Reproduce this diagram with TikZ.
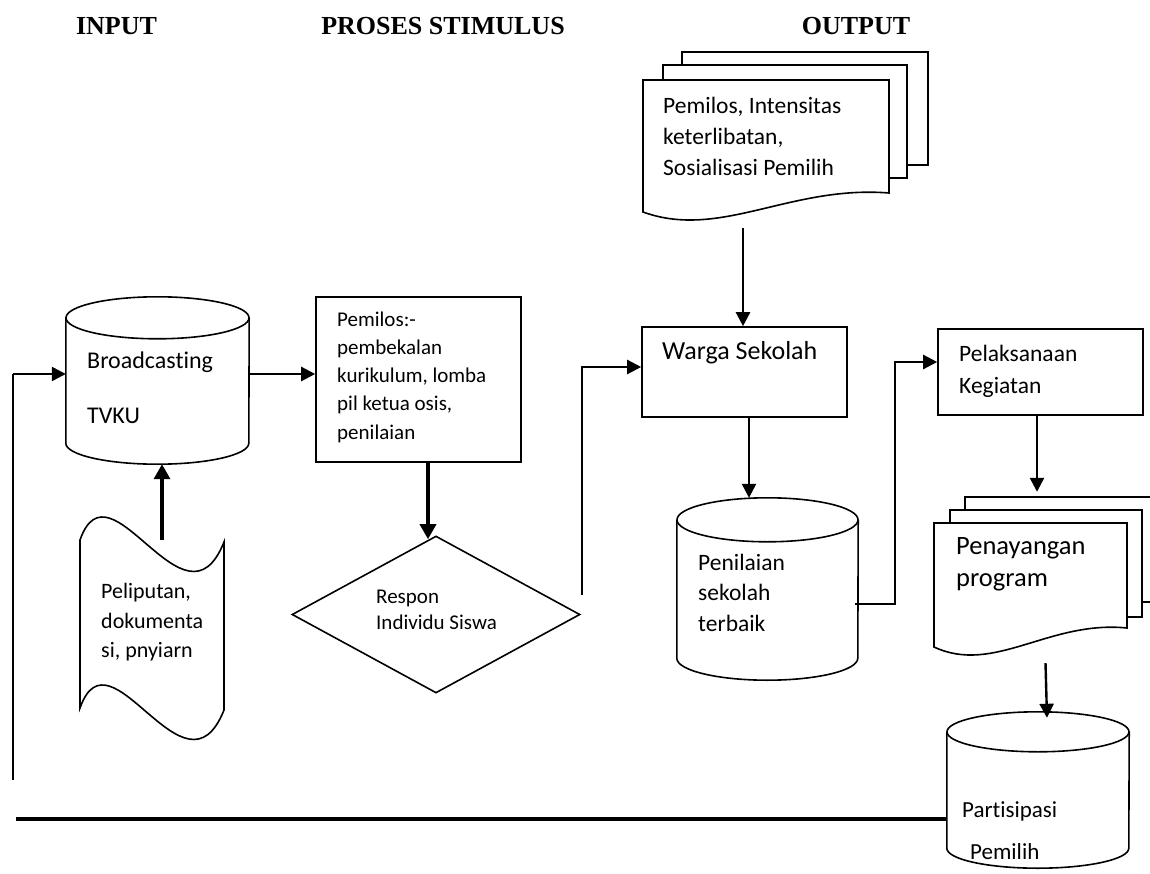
\documentclass[tikz,border=0pt]{standalone}
\usepackage{fontspec}
\setmainfont[Ligatures=NoCommon]{Carlito}
\newfontfamily\headfont{Liberation Serif}
\usetikzlibrary{arrows.meta,shapes.geometric}

% outline of an upright cylinder around a named node
\newcommand\cylinderoutline[3]{%
  \draw[outline] ([yshift=-#3]#1.north west) -- ([yshift=#3]#1.south west)
    arc[start angle=180, end angle=360, x radius=#2, y radius=#3]
    -- ([yshift=-#3]#1.north east);
  \draw[outline] ([yshift=-#3]#1.north) ellipse [x radius=#2, y radius=#3];
}

\begin{document}
\begin{tikzpicture}[x=1pt,y=-1pt,
  outline/.style={line width=1.6pt, line join=miter},
  procbox/.style={draw, line width=1.6pt, rectangle, inner sep=0pt},
  holder/.style={rectangle, inner sep=0pt},
  flow/.style={line width=2.4pt, -{Triangle[length=14pt,width=14pt]}},
  flowbold/.style={line width=3.4pt, -{Triangle[length=15pt,width=16pt]}},
  heading/.style={font=\headfont\bfseries\fontsize{26}{30}\selectfont, inner sep=0pt},
  label/.style={anchor=west, align=left, inner sep=0pt},
]
\useasboundingbox[fill=white] (0,0) rectangle (1150,874);

% column headings
\node[heading] (hin)  at (116.5,26) {INPUT};
\node[heading] (hpro) at (443,26)   {PROSES STIMULUS};
\node[heading] (hout) at (856,26)   {OUTPUT};

% ---------- input ----------
\node[holder, minimum width=183pt, minimum height=167pt] (bc) at (157.5,380.5) {};
\cylinderoutline{bc}{91.5pt}{21pt}
\node[label, font=\fontsize{24}{55}\selectfont] (bct) at (87,387.5) {Broadcasting\\TVKU};

% punched tape
\node[holder, minimum width=144pt, minimum height=228pt] (tp) at (152,626) {};
\draw[outline, fill=white] (80,540) .. controls (110,455) and (185,640) .. (224,542)
  -- (224,710) .. controls (185,808) and (110,623) .. (80,708) -- cycle;
\node[label, font=\fontsize{22}{29.5}\selectfont] (tpt) at (101,622.5)
  {Peliputan,\\dokumenta\\si, pnyiarn};

% ---------- stimulus ----------
\node[procbox, minimum width=205pt, minimum height=165pt] (pem) at (418.5,379.5) {};
\node[label, font=\fontsize{21}{28.2}\selectfont] (pemt) at (337,377)
  {Pemilos:-\\pembekalan\\kurikulum, lomba\\pil ketua osis,\\penilaian};

\node[draw, diamond, line width=1.6pt, inner sep=0pt,
      minimum width=288pt, minimum height=157pt] (dm) at (436,614.5) {};
\node[label, font=\fontsize{21}{26}\selectfont] (dmt) at (376,610)
  {Respon\\Individu Siswa};

% ---------- output ----------
% stacked documents
\draw[outline, fill=white] (682,52) rectangle (928,165);
\draw[outline, fill=white] (663,65) rectangle (907,178);
\draw[outline, fill=white] (643,212) -- (643,80) -- (889,80) -- (889,193)
  .. controls (790,185) and (720,240) .. (643,212) -- cycle;
\node[label, font=\fontsize{23.5}{31}\selectfont] (tdt) at (663,136)
  {Pemilos, Intensitas\\keterlibatan,\\Sosialisasi Pemilih};

\node[procbox, minimum width=205pt, minimum height=90pt] (wa) at (744.5,372) {};
\node[label, font=\fontsize{26}{30}\selectfont] (wat) at (662,353) {Warga Sekolah};

\node[holder, minimum width=181pt, minimum height=182pt] (pn) at (767.5,589) {};
\cylinderoutline{pn}{90.5pt}{22pt}
\node[label, font=\fontsize{23.5}{30.5}\selectfont] (pnt) at (698,592.5)
  {Penilaian\\sekolah\\terbaik};

\node[procbox, minimum width=205pt, minimum height=86pt] (pel) at (1040.5,372) {};
\node[label, font=\fontsize{23.5}{32}\selectfont] (pelt) at (959,371)
  {Pelaksanaan\\Kegiatan};

\draw[outline, fill=white] (965,497) rectangle (1170,602);
\draw[outline, fill=white] (950,510) rectangle (1142,617);
\node[holder, minimum width=193pt, minimum height=132pt] (py) at (1030.5,589) {};
\draw[outline, fill=white] (934,647) -- (934,523) -- (1127,523) -- (1127,628)
  .. controls (1049,620) and (994,675) .. (934,647) -- cycle;
\node[label, font=\fontsize{26.5}{32}\selectfont] (pyt) at (956,564)
  {Penayangan\\program};

\node[holder, minimum width=182pt, minimum height=156pt] (pa) at (1038,790) {};
\cylinderoutline{pa}{91pt}{20pt}
\node[label, font=\fontsize{23}{42}\selectfont] (pat) at (962,831)
  {Partisipasi\\\hspace*{8pt}Pemilih};

% ---------- connectors ----------
\coordinate (rowA) at (0,374);
\coordinate (fbEnd) at (16,819);
\coordinate (fbUp) at (13,780);
\coordinate (fbTop) at (13,374);
\coordinate (tdOut) at (743,228);
\coordinate (bend) at (895,362);
\coordinate (pelIn) at ([yshift=10pt]pel.west);

\draw[line width=4pt] (pa.west |- fbEnd) -- (fbEnd);
\draw[line width=2pt] (fbUp) -- (fbTop);
\draw[flow] (fbTop) -- (bc.west |- rowA);
\draw[flow] (bc.east |- rowA) -- (pem.west |- rowA);
\draw[flowbold] ([xshift=10pt,yshift=-28pt]tp.north) -- ([xshift=4.5pt]bc.south);
\draw[flowbold] ([xshift=9.5pt]pem.south) -- ([xshift=9.5pt,yshift=-4pt]pem.south |- dm.north);
\draw[flow] ([xshift=1pt,yshift=20pt]dm.east) |- ([yshift=5pt]wa.west);
\draw[flow] (tdOut) -- (tdOut |- wa.north);
\draw[flow] ([xshift=4.5pt]wa.south) -- ([xshift=4.5pt]wa.south |- pn.north);
\draw[flow] ([xshift=-3pt,yshift=-15pt]pn.east) -| (bend) -- (pelIn);
\draw[flow] ([xshift=-3.5pt]pel.south) -- ++(0,76);
\draw[flow] ([xshift=15pt,yshift=-8pt]py.south) -- ([xshift=9pt,yshift=-6pt]pa.north);
\end{tikzpicture}
\end{document}
